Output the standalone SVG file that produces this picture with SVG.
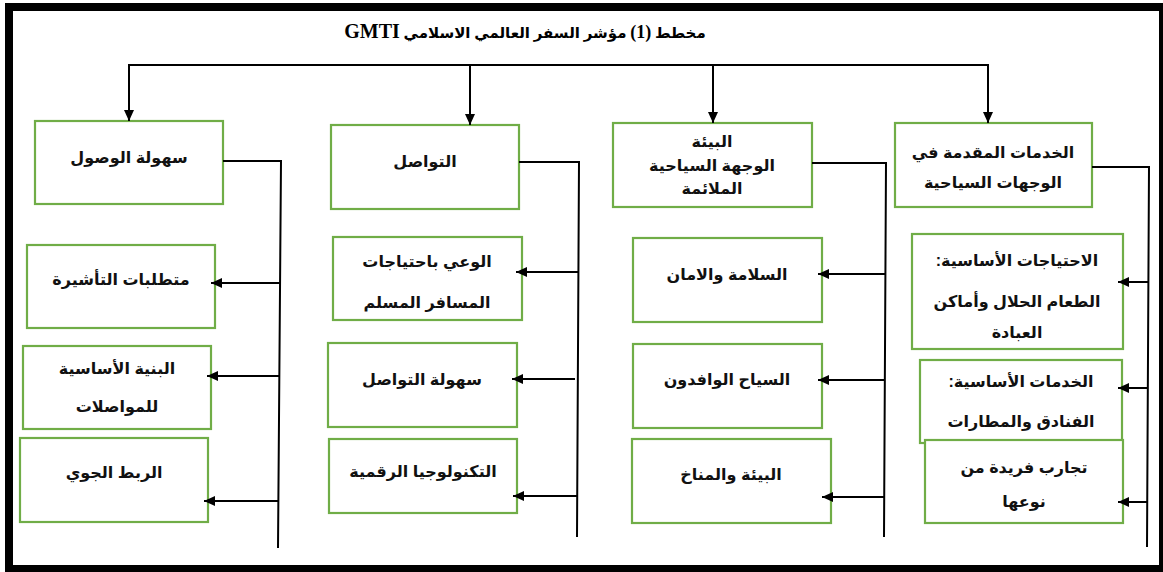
<svg xmlns="http://www.w3.org/2000/svg" width="1163" height="572" viewBox="0 0 1163 572">
<style>
.box{fill:#fff;stroke:#70ad47;stroke-width:2.2}
.t{font-family:"Liberation Sans","DejaVu Sans",sans-serif;font-weight:bold;font-size:16px;fill:#111;text-anchor:middle;direction:rtl}
.ln{fill:none;stroke:#000;stroke-width:2}
.ar{fill:none;stroke:#000;stroke-width:2;marker-end:url(#ah)}
.title{font-family:"Liberation Serif","DejaVu Sans",serif;font-weight:bold;font-size:15px;fill:#000;text-anchor:middle;direction:rtl}
</style>
<defs>
<marker id="ah" markerUnits="userSpaceOnUse" markerWidth="12" markerHeight="10" refX="11" refY="5" orient="auto">
<path d="M0,0 L11,5 L0,10 z" fill="#000"/>
</marker>
</defs>
<rect x="0" y="0" width="1163" height="572" fill="#fff"/>
<rect x="9" y="7" width="1154" height="562" fill="none" stroke="#000" stroke-width="8"/>
<g id="title"><text class="title" x="525" y="38">مخطط <tspan font-size="18">(1)</tspan> مؤشر السفر العالمي الاسلامي <tspan font-size="20">GMTI</tspan></text></g>
<g id="n1"><rect class="box" x="35" y="121" width="188" height="83"/><text class="t" x="129" y="163">سهولة الوصول</text></g>
<g id="n2"><rect class="box" x="331" y="125" width="188" height="84"/><text class="t" x="425" y="167">التواصل</text></g>
<g id="n3"><rect class="box" x="613" y="123" width="199" height="84"/><text class="t" x="712" y="147">البيئة</text><text class="t" x="712" y="171">الوجهة السياحية</text><text class="t" x="712" y="194">الملائمة</text></g>
<g id="n4"><rect class="box" x="895" y="123" width="197" height="84"/><text class="t" x="993" y="158">الخدمات المقدمة في</text><text class="t" x="993" y="188">الوجهات السياحية</text></g>
<g id="n1a"><rect class="box" x="27" y="245" width="188" height="83"/><text class="t" x="121" y="285">متطلبات التأشيرة</text></g>
<g id="n1b"><rect class="box" x="23" y="346" width="188" height="83"/><text class="t" x="117" y="374">البنية الأساسية</text><text class="t" x="117" y="412">للمواصلات</text></g>
<g id="n1c"><rect class="box" x="20" y="438" width="188" height="84"/><text class="t" x="114" y="478">الربط الجوي</text></g>
<g id="n2a"><rect class="box" x="333" y="237" width="189" height="83"/><text class="t" x="427" y="267">الوعي باحتياجات</text><text class="t" x="427" y="308">المسافر المسلم</text></g>
<g id="n2b"><rect class="box" x="328" y="343" width="189" height="84"/><text class="t" x="422" y="385">سهولة التواصل</text></g>
<g id="n2c"><rect class="box" x="329" y="439" width="188" height="74"/><text class="t" x="423" y="477">التكنولوجيا الرقمية</text></g>
<g id="n3a"><rect class="box" x="633" y="238" width="189" height="84"/><text class="t" x="727" y="280">السلامة والامان</text></g>
<g id="n3b"><rect class="box" x="633" y="344" width="189" height="84"/><text class="t" x="727" y="385">السياح الوافدون</text></g>
<g id="n3c"><rect class="box" x="632" y="439" width="199" height="84"/><text class="t" x="731" y="480">البيئة والمناخ</text></g>
<g id="n4a"><rect class="box" x="912" y="234" width="211" height="115"/><text class="t" x="1017" y="266">الاحتياجات الأساسية:</text><text class="t" x="1017" y="307">الطعام الحلال وأماكن</text><text class="t" x="1017" y="338">العبادة</text></g>
<g id="n4b"><rect class="box" x="920" y="360" width="202" height="83"/><text class="t" x="1021" y="387">الخدمات الأساسية:</text><text class="t" x="1021" y="427">الفنادق والمطارات</text></g>
<g id="n4c"><rect class="box" x="925" y="440" width="198" height="83"/><text class="t" x="1024" y="473">تجارب فريدة من</text><text class="t" x="1024" y="507">نوعها</text></g>
<g id="connectors">
<polyline class="ln" points="129,65 988,65"/>
<line class="ar" x1="129" y1="64" x2="129" y2="121"/>
<line class="ar" x1="470" y1="64" x2="470" y2="125"/>
<line class="ar" x1="713" y1="64" x2="713" y2="123"/>
<line class="ar" x1="988" y1="64" x2="988" y2="123"/>
<polyline class="ln" points="223,161 281,161 278,548"/>
<polyline class="ln" points="519,162 579,162 577,537"/>
<polyline class="ln" points="812,163 886,163 884,537"/>
<polyline class="ln" points="1092,167 1149,167 1147,547"/>
<line class="ar" x1="280" y1="283" x2="211" y2="283"/>
<line class="ar" x1="279" y1="376" x2="207" y2="376"/>
<line class="ar" x1="278" y1="501" x2="204" y2="501"/>
<line class="ar" x1="578" y1="272" x2="516" y2="272"/>
<line class="ar" x1="575" y1="379" x2="512" y2="379"/>
<line class="ar" x1="577" y1="496" x2="513" y2="496"/>
<line class="ar" x1="885" y1="274" x2="818" y2="274"/>
<line class="ar" x1="885" y1="380" x2="818" y2="380"/>
<line class="ar" x1="884" y1="497" x2="822" y2="497"/>
<line class="ar" x1="1148" y1="282" x2="1118" y2="282"/>
<line class="ar" x1="1148" y1="388" x2="1118" y2="388"/>
<line class="ar" x1="1147" y1="502" x2="1118" y2="502"/>
</g>
</svg>
